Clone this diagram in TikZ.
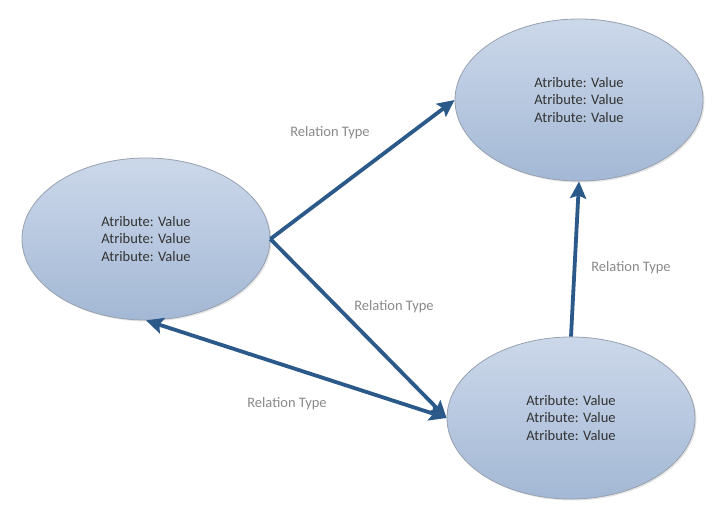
\documentclass[tikz,border=0pt]{standalone}
\usepackage{fontspec}
\setmainfont{Carlito}
\usetikzlibrary{shapes.geometric,arrows.meta,shadows}
\definecolor{arrowblue}{HTML}{2B5A8A}
\definecolor{elltop}{HTML}{CCD8EA}
\definecolor{ellbot}{HTML}{A3B8D5}
\definecolor{ellline}{HTML}{97A1B0}
\definecolor{attrtext}{HTML}{333333}
\definecolor{reltext}{HTML}{8A8A8A}
\tikzset{
  entity/.style={ellipse, draw=ellline, line width=0.8pt, top color=elltop, bottom color=ellbot,
    minimum width=248, minimum height=162, inner sep=0pt, align=center,
    font=\fontsize{14.5}{17.5}\selectfont, text=attrtext,
    drop shadow={shadow xshift=1.5pt, shadow yshift=-1.5pt, opacity=0.2}},
  tip/.style={Stealth[length=17pt,width=16pt,inset=3pt]},
  rel/.style={line width=3.8pt, draw=arrowblue, -{Stealth[length=17pt,width=16pt,inset=3pt]}},
  birel/.style={line width=3.8pt, draw=arrowblue, {Stealth[length=17pt,width=16pt,inset=3pt]}-{Stealth[length=17pt,width=16pt,inset=3pt]}},
  rellabel/.style={font=\fontsize{14.5}{16}\selectfont, text=reltext, inner sep=0pt}
}
\begin{document}
\begin{tikzpicture}[x=1pt,y=-1pt]
\useasboundingbox[fill=white] (0,0) rectangle (717,516);
\node[entity] (L) at (146,239) {Atribute: Value\\Atribute: Value\\Atribute: Value};
\node[entity] (TR) at (579,100) {Atribute: Value\\Atribute: Value\\Atribute: Value};
\node[entity] (BR) at (571,418) {Atribute: Value\\Atribute: Value\\Atribute: Value};
\draw[rel] (L.east) -- (TR.west);
\draw[rel] (L.east) -- (BR.west);
\draw[birel] (L.south) -- (BR.west);
\draw[rel] (BR.north) -- (TR.south);
\node[rellabel] (r1) at (330,133) {Relation Type};
\node[rellabel] (r2) at (394,307) {Relation Type};
\node[rellabel] (r3) at (631,268) {Relation Type};
\node[rellabel] (r4) at (287,404) {Relation Type};
\end{tikzpicture}
\end{document}
